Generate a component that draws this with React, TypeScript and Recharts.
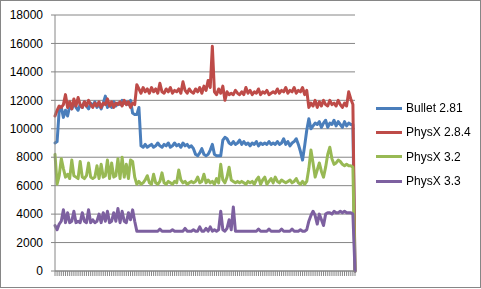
import * as React from 'react';
import {
  LineChart,
  Line,
  CartesianGrid,
  XAxis,
  YAxis,
  Legend
} from 'recharts';

const seriesNames = ['Bullet 2.81', 'PhysX 2.8.4', 'PhysX 3.2', 'PhysX 3.3'];
const seriesColors = ['#4a7ebb', '#be4b48', '#98b954', '#7d60a0'];

const yTicks = [0, 2000, 4000, 6000, 8000, 10000, 12000, 14000, 16000, 18000];

const bullet = [
  9000, 9100, 11300, 11500, 10800, 11300, 10900, 11600, 11400, 11800,
  11500, 11300, 11700, 11500, 11900, 11600, 11400, 11800, 11600, 11900,
  11500, 11700, 11400, 11800, 12300, 11500, 11700, 11500, 11900, 11600,
  11800, 11700, 12000, 11800, 11900, 11700, 12000, 11100, 11000, 11000,
  11500, 8800, 8700, 8900, 8700, 8800, 8900, 8700, 8800, 9000,
  8800, 8700, 8900, 8800, 9000, 8700, 8800, 9000, 8800, 8900,
  8700, 9000, 8800, 8900, 8700, 8800, 8600, 8200, 8100, 8300,
  8600, 8200, 8100, 8200, 8500, 8900, 8200, 8100, 8100, 8100,
  9200, 9400, 9300, 9000, 8900, 9100, 8900, 9000, 9200, 8900,
  9100, 8900, 9000, 8800, 9000, 8900, 9100, 8800, 9000, 8900,
  9000, 8900, 9100, 8900, 9000, 8900, 9100, 8900, 9000, 9300,
  8900, 9100, 8800, 9000, 9100, 9300, 8900, 8400, 7800, 8800,
  9900, 10700, 10000, 10200, 10400, 10300, 10500, 10100, 10400, 10600,
  10100, 10400, 10300, 10600, 10200, 10500, 10300, 10100, 10500, 10200,
  10400, 10300, 10300, 0
];

const physx284 = [
  10900, 11300, 11600, 11500, 11700, 12400, 11500, 11900, 11400, 12100,
  11600, 12200, 11700, 11500, 11900, 11600, 12000, 11700, 11500, 11800,
  11600, 11900, 11500, 11800, 11700, 12100, 11600, 11900, 11500, 11800,
  11700, 11900, 11600, 12000, 11700, 11900, 11500, 11800, 11700, 13100,
  12800, 12500, 12900, 12600, 12800, 12500, 12900, 12600, 12800, 12500,
  13200, 12600, 12500, 12800, 12600, 12900, 12500, 12700, 12600, 12800,
  12500, 13300, 12700, 12500, 12800, 12600, 12500, 12800, 12600, 12900,
  12500, 13000, 12700, 13400, 12900, 15800, 12600, 12400, 12800, 12500,
  13000, 12000, 12600, 12400, 12500, 12400, 12700, 12500, 12400, 12600,
  12400, 12900, 12500, 12700, 12400, 12600, 12500, 12800, 12400, 12600,
  12500, 12700, 12400, 12500, 12600, 12500, 12800, 12500, 12700, 12600,
  12900, 12500, 12700, 12600, 12900, 12500, 12700, 12600, 12900, 12400,
  12700, 11500, 11800, 11600, 12000, 11500, 11900, 11600, 12000, 11700,
  11600, 12000, 11700, 11800, 11600, 12000, 11700, 11500, 11800, 11600,
  12600, 12100, 11700, 0
];

const physx32 = [
  8200, 6100, 6700, 7900, 7200, 6600, 6800, 6500, 7800, 6700,
  6600, 6500, 7700, 6600, 6500, 6700, 7600, 6600, 6500, 6600,
  7400, 6500, 7500, 6600, 6700, 7800, 6500, 7600, 6600, 6700,
  7900, 6500, 8000, 6600, 7500, 6500, 7800, 7700, 6600, 6100,
  6300, 6100, 6200, 6400, 6700, 6200, 6100, 6800, 6200, 6100,
  6300, 6900, 6200, 6100, 6300, 6200, 6100, 6300, 6200, 7100,
  6400, 6200, 6300, 6100, 6200, 6300, 6200, 6300, 6600, 6200,
  6300, 6800, 6200, 6400, 6200, 6300, 6100, 6500, 6200, 7500,
  6400, 6200, 6600, 7300, 6400, 6300, 6200, 6300, 6200, 6300,
  6200, 6100, 6300, 6200, 6300, 6100, 6400, 6600, 6100, 6400,
  6600, 6100, 6300, 6500, 6200, 6600, 6300, 6200, 6400, 6300,
  6200, 6300, 6400, 6200, 6300, 6500, 6200, 6100, 6300, 6100,
  6300, 7200, 8500, 7600, 6600, 7100, 7600, 7000, 6600, 7300,
  8200, 8700, 7900, 7500, 7600, 7800, 7700, 7500, 7400, 7500,
  7400, 7400, 7300, 0
];

const physx33 = [
  3200, 2900, 3300, 3500, 4300, 3400, 4100, 3400, 3500, 4200,
  3400, 3500, 3400, 4100, 3500, 3400, 4300, 3400, 3600, 3400,
  3500, 4000, 3400, 4100, 3500, 4200, 3400, 3500, 4100, 3500,
  4400, 3400, 4200, 3500, 3400, 4100, 3600, 4300, 3500, 2800,
  2800, 2800, 2800, 2800, 2800, 2800, 2800, 2800, 2800, 2800,
  2950, 2800, 2800, 2800, 2800, 2800, 2900, 2800, 2800, 2800,
  2800, 2800, 3000, 2800, 2800, 2800, 2900, 2800, 2800, 3100,
  2800, 2800, 3000, 2800, 3100, 2800, 2900, 2800, 2900, 4200,
  2900, 2800, 3000, 3600, 2900, 4500, 2800, 2800, 2800, 2800,
  2800, 2800, 2800, 2800, 2800, 2800, 2800, 2950, 2800, 2800,
  2800, 2800, 2950, 2800, 2800, 2800, 2800, 2800, 2950, 2800,
  2800, 2800, 2800, 2950, 2800, 2800, 2800, 2900, 2800, 2800,
  2900, 3500, 3900, 4200, 3900, 3300, 4000, 3600, 3200, 4000,
  4100, 4100, 4000, 4200, 4100, 4100, 4200, 4100, 4200, 4100,
  4100, 4100, 4000, 0
];

const seriesValues = [bullet, physx284, physx32, physx33];

const data = bullet.map((_, i) => {
  const row: any = { frame: i + 1 };
  seriesNames.forEach((name, s) => {
    row[name] = seriesValues[s][i];
  });
  return row;
});

const font = 'Liberation Sans, Arial, sans-serif';

const renderLegend = (props: any) => {
  const { payload } = props;
  return (
    <div style={{ width: 110, fontFamily: font, fontSize: 12, color: '#000' }}>
      {payload.map((entry: any) => (
        <div
          key={entry.value}
          style={{ display: 'flex', alignItems: 'center', height: 24.3 }}
        >
          <span
            style={{
              display: 'inline-block',
              width: 26,
              height: 3,
              background: entry.color,
              marginRight: 4
            }}
          />
          <span>{entry.value}</span>
        </div>
      ))}
    </div>
  );
};

const EmptyTick = () => <g />;

export default function App() {
  return (
    <div
      style={{
        position: 'fixed',
        left: 0,
        top: 0,
        width: 481,
        height: 289,
        background: '#fff'
      }}
    >
      <LineChart
        width={481}
        height={289}
        data={data}
        margin={{ top: 15, right: 126, left: 0, bottom: 0 }}
      >
        <CartesianGrid vertical={false} stroke="#868686" />
        <XAxis
          dataKey="frame"
          height={18}
          interval={0}
          tick={<EmptyTick />}
          tickSize={5}
          stroke="#868686"
          tickLine={{ stroke: '#868686' }}
        />
        <YAxis
          width={55}
          domain={[0, 18000]}
          ticks={yTicks}
          interval={0}
          tickSize={4}
          tickMargin={8}
          stroke="#868686"
          tick={{ fill: '#000', fontSize: 12, fontFamily: font }}
        />
        <Legend
          layout="vertical"
          align="center"
          verticalAlign="middle"
          wrapperStyle={{ left: 376, top: 96, width: 110 }}
          content={renderLegend}
        />
        {seriesNames.map((name, s) => (
          <Line
            key={name}
            type="linear"
            dataKey={name}
            stroke={seriesColors[s]}
            strokeWidth={3}
            strokeLinejoin="round"
            strokeLinecap="round"
            dot={false}
            isAnimationActive={false}
          />
        ))}
      </LineChart>
      <div
        style={{
          position: 'absolute',
          left: 0,
          top: 0,
          width: 481,
          height: 288,
          boxSizing: 'border-box',
          border: '1px solid #868686',
          pointerEvents: 'none'
        }}
      />
    </div>
  );
}
